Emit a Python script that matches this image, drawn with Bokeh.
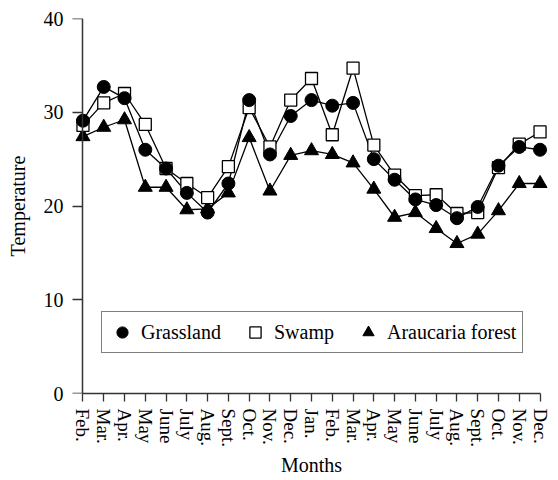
from bokeh.plotting import figure
from bokeh.models import Range1d, FixedTicker, Legend, LegendItem, LinearAxis
from bokeh.embed import file_html
from bokeh.resources import INLINE

months = ["Feb.", "Mar.", "Apr.", "May", "June", "July", "Aug.", "Sept.", "Oct.", "Nov.", "Dec.",
          "Jan.", "Feb.", "Mar.", "Apr.", "May", "June", "July", "Aug.", "Sept.", "Oct.", "Nov.", "Dec."]
grassland = [29.1, 32.7, 31.5, 26.0, 24.0, 21.4, 19.3, 22.4, 31.3, 25.5, 29.6, 31.3,
             30.7, 31.0, 25.0, 22.8, 20.7, 20.1, 18.7, 19.9, 24.3, 26.3, 26.0]
swamp = [28.6, 31.0, 32.0, 28.7, 24.0, 22.4, 20.9, 24.2, 30.5, 26.3, 31.3, 33.6,
         27.6, 34.7, 26.5, 23.3, 21.1, 21.2, 19.2, 19.3, 24.1, 26.6, 27.9]
araucaria = [27.4, 28.4, 29.2, 22.0, 22.0, 19.6, 19.7, 21.4, 27.3, 21.6, 25.4, 25.9,
             25.5, 24.6, 21.8, 18.8, 19.3, 17.6, 16.0, 17.0, 19.5, 22.4, 22.4]
y_ticks = [0, 10, 20, 30, 40]

x = list(range(len(months)))
FONT = "Liberation Serif"
AX = "#333333"

p = figure(width=558, height=480, output_backend="svg", toolbar_location=None,
           x_range=Range1d(-0.6, len(months) - 1 + 0.6), y_range=Range1d(0, 40),
           min_border_left=70, min_border_right=6, min_border_top=18, min_border_bottom=87)
p.outline_line_color = None
p.xgrid.visible = False
p.ygrid.visible = False

for ys in (araucaria, swamp, grassland):
    p.line(x, ys, line_color="black", line_width=1.3)

r_tri = p.scatter(x, araucaria, marker="triangle", size=14, fill_color="black", line_color="black")
r_sq = p.scatter(x, swamp, marker="square", size=12, fill_color="white", line_color="black", line_width=1.3)
r_ci = p.scatter(x, grassland, marker="circle", size=13, fill_color="black", line_color="black")

# x axis
xa = p.xaxis[0]
xa.ticker = FixedTicker(ticks=x)
xa.major_label_overrides = {i: m for i, m in enumerate(months)}
xa.major_label_orientation = "vertical"
xa.bounds = (0, len(months) - 1)
xa.minor_tick_line_color = None
xa.major_tick_in = 0
xa.major_tick_out = 8
xa.major_label_standoff = 7
xa.axis_line_width = 1.5
xa.axis_line_color = AX
xa.major_tick_line_color = AX
xa.major_tick_line_width = 1.3
xa.major_label_text_font = FONT
xa.major_label_text_font_size = "19px"
xa.major_label_text_color = "black"
xa.axis_label = "Months"
xa.axis_label_text_font = FONT
xa.axis_label_text_font_size = "20px"
xa.axis_label_text_font_style = "normal"
xa.axis_label_text_color = "black"
xa.axis_label_standoff = 4

# y axis: labels in the left panel
ya = p.yaxis[0]
ya.ticker = FixedTicker(ticks=y_ticks)
ya.axis_line_color = None
ya.major_tick_line_color = None
ya.minor_tick_line_color = None
ya.major_tick_in = 0
ya.major_tick_out = 0
ya.major_label_standoff = 7
ya.major_label_text_font = FONT
ya.major_label_text_font_size = "20px"
ya.major_label_text_color = "black"
ya.axis_label = "Temperature"
ya.axis_label_text_font = FONT
ya.axis_label_text_font_size = "20px"
ya.axis_label_text_font_style = "normal"
ya.axis_label_text_color = "black"
ya.axis_label_standoff = 12

# y axis line and ticks at the first month
ya2 = LinearAxis(fixed_location=0, ticker=FixedTicker(ticks=y_ticks))
ya2.minor_tick_line_color = None
ya2.major_tick_in = 0
ya2.major_tick_out = 10
ya2.axis_line_width = 1.5
ya2.axis_line_color = AX
ya2.major_tick_line_color = AX
ya2.major_tick_line_width = 1.3
ya2.major_label_text_alpha = 0
ya2.major_label_text_font_size = "1px"
p.add_layout(ya2, "left")

legend = Legend(items=[LegendItem(label="Grassland", renderers=[r_ci]),
                       LegendItem(label="Swamp", renderers=[r_sq]),
                       LegendItem(label="Araucaria forest", renderers=[r_tri])],
                orientation="horizontal", location=(31, 40),
                border_line_color="black", border_line_width=1,
                glyph_width=28, glyph_height=28, label_standoff=5, spacing=20,
                padding=6, margin=0,
                label_text_font=FONT, label_text_font_size="20px",
                label_text_color="black")
p.add_layout(legend)

open("out.html", "w").write(file_html(p, INLINE))
